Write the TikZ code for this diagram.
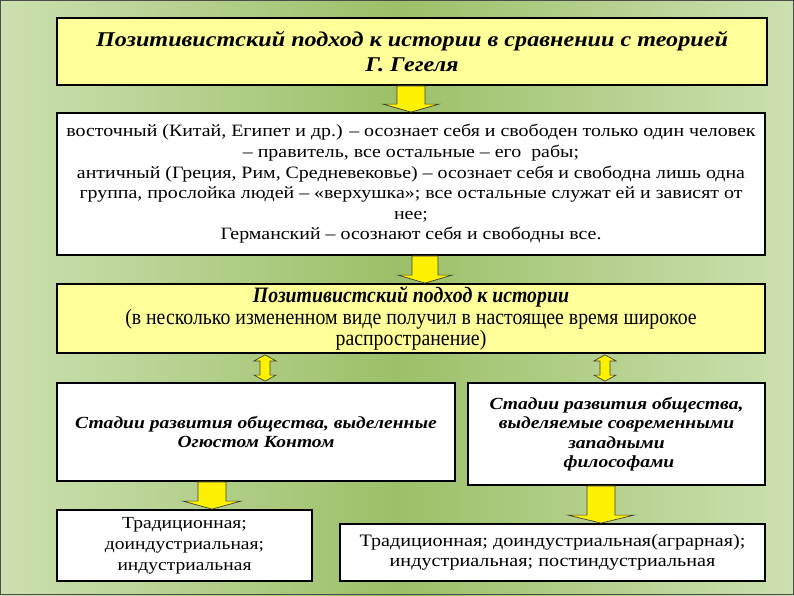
\documentclass[tikz,border=0pt]{standalone}
\usepackage{fontspec}
\setmainfont{Liberation Serif}
\newfontfamily\widefont{Liberation Serif}[FakeStretch=1.15]
\newfontfamily\narrowfont{Liberation Serif}[FakeStretch=0.9]
\usepackage{tikz}
\usetikzlibrary{calc}

\definecolor{bgdark}{RGB}{156,192,104}
\definecolor{bglight}{RGB}{204,224,176}
\definecolor{paleyellow}{RGB}{255,255,153}

% block arrow down: x, upper node, lower node, shaft half width, head half width
\newcommand{\blockdown}[5]{%
  \path (#1,0 |- #2.south) coordinate (bt) (#1,0 |- #3.north) coordinate (bb);
  \draw[barrow] ($(bt)+(-#4,0)$) -- ($(bb)+(-#4,-8)$) -- ($(bb)+(-#5,-8)$) -- (bb)
    -- ($(bb)+(#5,-8)$) -- ($(bb)+(#4,-8)$) -- ($(bt)+(#4,0)$) -- cycle;
}
% thin double block arrow
\newcommand{\blockboth}[3]{%
  \path (#1,0 |- #2.south) coordinate (bt) (#1,0 |- #3.north) coordinate (bb);
  \draw[barrow] ($(bt)+(0,1)$) -- ($(bt)+(11,7)$) -- ($(bt)+(5,7)$) -- ($(bb)+(5,-7)$)
    -- ($(bb)+(11,-7)$) -- ($(bb)+(0,-1)$) -- ($(bb)+(-11,-7)$) -- ($(bb)+(-5,-7)$)
    -- ($(bt)+(-5,7)$) -- ($(bt)+(-11,7)$) -- cycle;
}

\begin{document}
\begin{tikzpicture}[x=1pt,y=-1pt,
    box/.style={draw=black,line width=1.8pt,fill=white,align=center,inner sep=2pt},
    ybox/.style={box,fill=paleyellow},
    barrow/.style={fill=yellow,draw=black!75,line width=0.7pt,line join=miter}]

\shade[left color=bglight,right color=bglight,middle color=bgdark] (0,0) rectangle (794,595);
\draw[black!70,line width=1pt] (0.5,0.5) rectangle (793.5,594.5);

\node[ybox,minimum width=710,minimum height=67,font=\widefont\fontsize{21}{25}\selectfont\bfseries\itshape]
  (hegel) at (412,51.5) {Позитивистский подход к истории в сравнении с теорией\\Г. Гегеля};

\node[box,minimum width=708,minimum height=142,font=\widefont\fontsize{17.3}{20.6}\selectfont]
  (types) at (411,184) {\rule{0pt}{9pt}восточный (Китай, Египет и др.) – осознает себя и свободен только один человек\\
  – правитель, все остальные – его\ \ рабы;\\
  античный (Греция, Рим, Средневековье) – осознает себя и свободна лишь одна\\
  группа, прослойка людей – «верхушка»; все остальные служат ей и зависят от\\
  нее;\\
  Германский – осознают себя и свободны все.};

\node[ybox,minimum width=708,minimum height=69,font=\narrowfont\fontsize{22}{21.5}\selectfont]
  (pos) at (411,318.5) {\textbf{\textit{Позитивистский подход к истории}}\\
  (в несколько измененном виде получил в настоящее время широкое\\
  распространение)};

\node[box,minimum width=398,minimum height=98,font=\widefont\fontsize{17}{19.5}\selectfont\bfseries\itshape]
  (comte) at (256,432) {Стадии развития общества, выделенные\\Огюстом Контом};

\node[box,minimum width=297,minimum height=102,font=\widefont\fontsize{17}{19.5}\selectfont\bfseries\itshape]
  (west) at (616.5,434) {Стадии развития общества,\\выделяемые современными\\западными\\\ философами};

\node[box,minimum width=255,minimum height=71,font=\widefont\fontsize{17}{21}\selectfont]
  (comtest) at (184.5,545.5) {Традиционная;\\доиндустриальная;\\индустриальная};

\node[box,minimum width=425,minimum height=57,font=\widefont\fontsize{17.5}{19.5}\selectfont]
  (westst) at (552.5,552.5) {Традиционная; доиндустриальная(аграрная);\\индустриальная; постиндустриальная};

\blockdown{411}{hegel}{types}{14}{28}
\blockdown{425}{types}{pos}{13}{27}
\blockboth{265}{pos}{comte}
\blockboth{605}{pos}{west}
\blockdown{212}{comte}{comtest}{14}{29}
\blockdown{601}{west}{westst}{14}{33}

\end{tikzpicture}
\end{document}
